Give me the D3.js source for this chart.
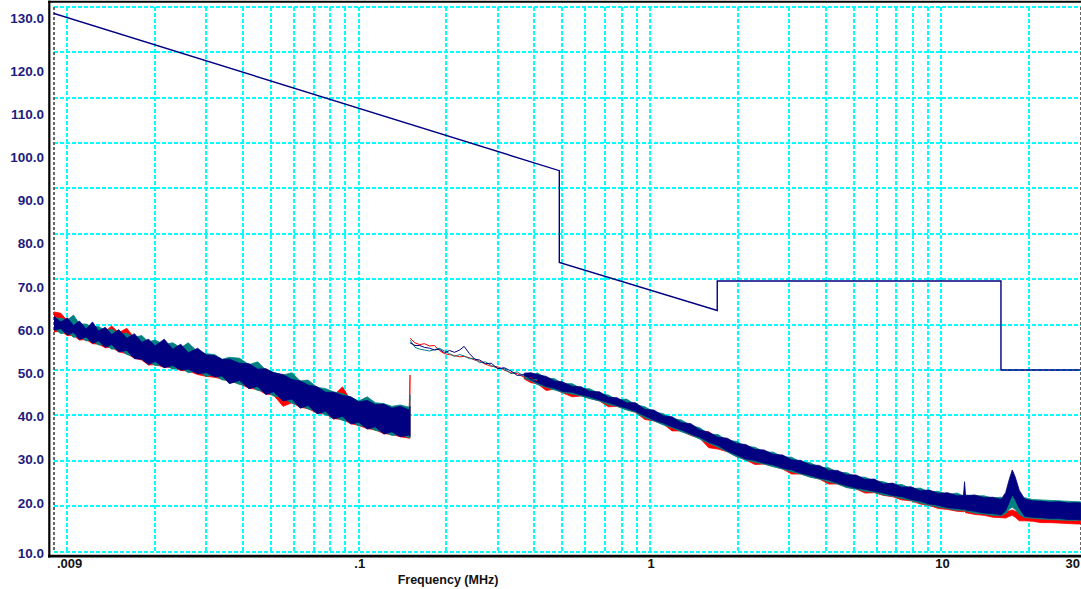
<!DOCTYPE html>
<html>
<head>
<meta charset="utf-8">
<script src="https://cdnjs.cloudflare.com/ajax/libs/d3/7.8.5/d3.min.js"></script>
<style>
  body { margin: 0; background: #fff; }
  svg { display: block; }
</style>
</head>
<body>
<div id="chart"></div>
<script>
'use strict'

// axis ticks
const yTicks = [10, 20, 30, 40, 50, 60, 70, 80, 90, 100, 110, 120, 130];
const xTickValues = [0.009, 0.1, 1, 10, 30];
const xTickText = ['.009', '.1', '1', '10', '30'];

// limit line (MHz, dB)
const limitFreq  = [0.009, 0.488, 0.488, 1.7, 1.7, 16.0, 16.0, 30];
const limitLevel = [128.5, 93.9, 73.7, 63.1, 69.6, 69.6, 50.0, 50.0];

// segment A : 9 kHz - 150 kHz, noise envelopes per trace
const freqA = [0.009,0.0095,0.010,0.0105,0.011,0.0116,0.0122,0.0128,0.0135,0.0142,0.015,0.016,0.017,0.018,0.019,0.020,0.0215,0.023,0.0245,0.026,0.028,0.030,0.032,0.034,0.036,0.039,0.042,0.045,0.048,0.051,0.055,0.059,0.063,0.067,0.072,0.077,0.082,0.088,0.094,0.100,0.107,0.114,0.122,0.130,0.139,0.1490,0.1500];
const navyHiA = [61.8,60.6,61.5,59.8,60.8,59.0,60.6,58.6,59.4,57.8,58.9,57.0,58.0,56.1,56.8,55.3,56.8,54.6,55.7,53.8,54.8,53.3,53.2,52.3,52.4,51.5,51.4,50.2,50.3,49.4,49.0,47.9,47.6,46.7,46.3,45.1,45.1,44.4,44.1,43.0,43.3,42.4,42.5,41.6,42.0,41.2,42.0];
const navyLoA = [58.8,59.1,57.7,58.3,56.7,57.3,55.9,56.4,55.0,55.6,54.0,54.3,52.5,52.4,51.2,51.9,50.5,51.0,50.0,50.2,49.2,49.4,48.5,48.7,47.0,47.7,45.9,46.4,44.6,45.2,43.2,43.6,41.6,42.2,40.4,40.9,39.2,39.8,38.1,38.5,37.0,37.5,35.9,36.4,35.3,35.7,35.4];
const tealHiA = [61.5,61.4,61.0,62.1,60.2,60.1,59.5,59.6,58.7,59.0,58.0,58.1,57.2,57.6,56.2,56.6,55.6,56.0,54.9,56.0,54.0,53.6,53.4,52.4,52.8,52.6,51.2,51.8,50.0,49.5,48.9,49.4,47.6,47.8,46.2,45.9,45.2,44.8,44.0,43.2,44.1,42.8,42.6,42.0,42.3,41.8,44.5];
const tealLoA = [59.2,58.0,58.4,57.2,57.4,56.4,56.6,55.5,55.6,54.6,54.7,53.4,53.0,52.4,51.9,51.0,51.2,50.2,50.6,49.4,49.8,48.6,49.0,47.8,47.8,46.8,46.6,45.5,45.3,44.3,43.9,42.7,42.3,41.4,41.0,40.1,39.8,38.9,38.7,37.7,37.6,36.7,36.4,35.6,35.8,35.1,35.2];
const redHiA  = [62.8,62.5,60.8,60.5,59.8,59.6,59.0,58.8,58.5,59.7,58.2,59.2,57.0,56.8,56.0,56.2,55.4,55.2,54.6,54.4,53.8,53.2,53.0,52.2,52.0,51.4,51.2,50.4,50.2,49.4,48.4,48.0,46.8,46.6,45.4,45.0,44.4,46.3,43.2,43.0,42.4,42.4,41.5,41.6,41.0,41.0,48.9];
const redLoA  = [58.4,58.5,57.6,57.6,56.6,56.7,55.8,55.7,54.9,55.0,54.0,53.6,52.6,52.2,51.1,51.2,50.6,50.6,49.9,49.8,49.0,48.6,48.4,48.0,47.5,47.0,46.0,45.7,44.7,44.5,42.0,42.8,41.8,41.5,40.5,40.3,39.3,39.1,38.2,37.8,37.1,36.8,36.0,35.8,35.3,35.0,35.0];

// segment B : 150 kHz - 410 kHz, thin traces
const freqB = [0.150,0.156,0.162,0.168,0.175,0.182,0.189,0.197,0.205,0.213,0.222,0.230,0.240,0.250,0.260,0.272,0.285,0.300,0.316,0.333,0.350,0.370,0.390,0.410];
const redB  = [57.0,56.0,55.6,55.8,55.3,55.4,54.3,53.6,53.4,53.2,52.9,53.0,52.7,52.2,51.9,51.3,50.8,50.7,50.0,49.4,49.2,48.4,48.3,47.6];
const tealB = [56.6,55.0,54.6,54.4,54.2,54.5,54.8,54.2,53.6,53.0,53.4,53.1,52.5,52.5,51.6,51.8,51.0,50.4,50.3,49.2,49.6,48.6,47.8,47.9];
const navyB = [56.0,55.4,55.4,55.0,54.8,54.4,54.6,53.8,54.3,53.9,54.4,55.2,53.6,52.4,52.2,51.4,51.5,50.3,50.5,49.8,48.8,49.0,48.0,48.2];

// segment C : 370 kHz - 30 MHz, noise envelopes per trace
const freqC = [0.37,0.39,0.41,0.44,0.47,0.50,0.54,0.58,0.62,0.67,0.72,0.77,0.83,0.89,0.96,1.03,1.11,1.19,1.28,1.38,1.48,1.59,1.71,1.84,1.98,2.13,2.29,2.46,2.65,2.85,3.06,3.29,3.54,3.81,4.1,4.4,4.73,5.09,5.47,5.88,6.32,6.8,7.31,7.86,8.45,9.08,9.76,10.5,11.3,11.9,12.0,12.1,13.0,14.0,15.0,16.0,16.6,17.1,17.5,17.9,18.5,19.3,20.5,22.0,23.6,25.3,27.2,29.2,30.0];
const navyHiC = [49.3,49.4,49.0,48.6,47.6,47.4,46.4,46.3,45.3,45.2,44.0,43.9,42.8,42.8,41.3,41.2,39.9,39.7,38.4,38.2,36.8,36.3,35.2,35.0,33.8,33.6,32.5,32.4,31.4,31.3,30.2,30.1,29.1,29.0,27.9,27.9,26.9,26.9,25.9,26.0,24.9,25.1,24.2,24.3,23.4,23.6,22.8,23.0,22.3,22.4,25.4,22.3,22.5,21.9,22.0,21.5,23.0,26.0,28.0,26.5,23.5,21.6,21.2,21.1,20.9,21.0,20.7,20.8,20.7];
const navyLoC = [48.6,47.8,47.2,46.4,46.0,45.3,45.1,44.5,44.1,43.4,42.8,42.2,41.6,40.9,39.9,39.0,38.3,37.5,36.8,35.9,35.2,34.1,33.4,32.2,31.3,30.4,30.1,29.5,29.1,28.4,28.0,27.3,26.8,26.2,25.8,25.1,24.5,24.0,23.7,23.3,22.9,22.4,22.1,21.5,21.1,20.5,20.2,19.7,19.5,19.3,19.4,19.2,18.9,18.5,18.4,18.1,19.0,21.0,22.5,21.5,19.5,17.8,17.6,17.5,17.3,17.3,17.1,17.1,17.0];
const tealHiC = [49.0,48.6,49.4,48.2,48.1,47.0,47.0,45.9,45.9,44.8,44.5,43.4,43.6,42.4,41.9,40.8,40.4,39.3,39.0,37.8,37.3,35.9,35.8,34.5,34.3,33.2,33.0,32.0,31.9,30.9,30.8,29.7,29.6,28.6,28.5,27.5,27.4,26.5,26.4,25.6,25.4,24.7,24.8,23.9,24.0,23.2,23.3,22.6,22.9,22.3,22.6,22.5,22.3,22.3,21.8,22.0,21.0,21.6,22.6,21.8,21.4,21.9,21.5,21.4,21.3,21.2,21.1,21.0,21.0];
const tealLoC = [48.2,47.6,46.8,46.2,45.6,45.1,44.7,44.3,43.7,43.2,42.4,42.0,41.2,40.7,39.5,38.8,37.9,37.3,36.4,35.7,34.8,33.9,33.0,32.0,30.9,30.2,29.7,29.3,28.7,28.2,27.6,27.1,26.4,26.0,25.4,24.9,24.1,23.8,23.3,23.1,22.5,22.2,21.7,21.3,20.7,20.3,19.8,19.5,19.1,19.1,19.0,19.0,18.5,18.3,18.0,17.9,18.4,19.4,19.8,19.3,18.2,17.5,17.4,17.2,17.1,17.0,16.9,16.9,16.9];
const redHiC  = [48.6,48.4,48.8,48.0,47.4,46.8,46.4,45.7,45.2,44.6,43.8,43.3,42.6,42.2,41.2,40.6,39.8,39.0,38.4,37.6,36.6,36.4,35.0,34.2,33.6,33.0,32.3,31.8,31.2,30.8,30.0,29.5,29.0,28.4,27.8,27.3,26.8,26.3,25.8,25.4,24.8,24.5,24.1,23.7,23.3,23.0,22.6,22.4,22.2,22.0,22.0,22.0,21.8,21.6,21.4,21.2,18.8,19.0,19.2,18.9,18.6,21.2,21.0,20.8,20.7,20.6,20.5,20.4,20.4];
const redLoC  = [48.0,47.2,47.0,45.5,45.8,45.0,44.1,44.3,43.8,43.2,41.9,42.0,41.3,40.7,39.1,38.8,38.1,36.6,36.6,35.6,35.0,32.9,32.6,32.0,31.0,30.2,29.2,29.3,28.8,28.2,27.1,27.1,26.5,26.0,24.9,24.9,24.2,23.8,22.9,23.0,22.4,22.1,21.4,21.2,20.5,20.2,19.5,19.3,18.9,18.8,18.9,18.6,18.2,18.0,17.6,17.5,17.4,17.8,18.0,17.6,16.8,16.8,16.7,16.4,16.4,16.3,16.2,16.1,16.1];

const RED = '#ff0000', TEAL = '#008080', NAVY = '#000080';
const width = 1081, height = 589;

const svg = d3.select('#chart').append('svg')
  .attr('width', width)
  .attr('height', height)
  .style('font-family', 'Arial, "Liberation Sans", sans-serif');

const x = d3.scaleLog().domain([0.009, 30]).range([54, 1080.5]);
const y = d3.scaleLinear().domain([10, 130]).range([551.7, 6.7]);
// the tick labels are not spaced like the grid in the original program
const yLabel = d3.scaleLinear().domain([10, 20, 120, 130]).range([552.7, 502.7, 70.7, 18.3]);

// grid
const gridFreqs = [];
[0.01, 0.1, 1, 10].forEach(dec => {
  for (let m = 1; m <= 9; m++) {
    if (dec * m <= 20.001) gridFreqs.push(dec * m);
  }
});

const grid = svg.append('g').attr('shape-rendering', 'crispEdges');
grid.selectAll('line.v').data(gridFreqs).enter().append('line')
  .attr('x1', d => Math.round(x(d))).attr('x2', d => Math.round(x(d)))
  .attr('y1', y(130)).attr('y2', y(10))
  .attr('stroke', '#00ffff').attr('stroke-width', 2).attr('stroke-dasharray', '4,2');
grid.selectAll('line.h').data(yTicks).enter().append('line')
  .attr('x1', x(0.009)).attr('x2', x(30))
  .attr('y1', d => Math.round(y(d))).attr('y2', d => Math.round(y(d)))
  .attr('stroke', '#00ffff').attr('stroke-width', 2).attr('stroke-dasharray', '4,2');
grid.selectAll('line.b').data([0.009, 30]).enter().append('line')
  .attr('x1', d => Math.round(x(d))).attr('x2', d => Math.round(x(d)))
  .attr('y1', y(130)).attr('y2', y(10))
  .attr('stroke', '#666').attr('stroke-width', 2).attr('stroke-dasharray', '3,2');

// traces
svg.append('clipPath').attr('id', 'plotclip')
  .append('rect').attr('x', 54).attr('y', 0).attr('width', 1027).attr('height', 552);
const traces = svg.append('g').attr('clip-path', 'url(#plotclip)');

const area = d3.area().x(d => x(d.f)).y0(d => y(d.lo)).y1(d => y(d.hi));
function band(freqs, lo, hi, color) {
  const pts = freqs.map((f, i) => ({ f: f, lo: lo[i], hi: hi[i] }));
  traces.append('path').datum(pts)
    .attr('d', area)
    .attr('fill', color)
    .attr('stroke', color)
    .attr('stroke-width', 0.8)
    .attr('stroke-linejoin', 'miter');
}
band(freqA, redLoA, redHiA, RED);
band(freqC, redLoC, redHiC, RED);
band(freqA, tealLoA, tealHiA, TEAL);
band(freqC, tealLoC, tealHiC, TEAL);
band(freqA, navyLoA, navyHiA, NAVY);
band(freqC, navyLoC, navyHiC, NAVY);

const line = d3.line().x(d => x(d.f)).y(d => y(d.v));
[[redB, RED], [tealB, TEAL], [navyB, NAVY]].forEach(s => {
  traces.append('path')
    .datum(freqB.map((f, i) => ({ f: f, v: s[0][i] })))
    .attr('d', line)
    .attr('fill', 'none')
    .attr('stroke', s[1])
    .attr('stroke-width', 1);
});

// limit
traces.append('path')
  .datum(limitFreq.map((f, i) => ({ f: f, v: limitLevel[i] })))
  .attr('d', line)
  .attr('fill', 'none')
  .attr('stroke', '#000080')
  .attr('stroke-width', 1.4);

// frame
svg.append('line').attr('x1', 49.3).attr('x2', 49.3).attr('y1', 0.8).attr('y2', 557.4)
  .attr('stroke', '#000').attr('stroke-width', 2.2);
svg.append('line').attr('x1', 48).attr('x2', 1081).attr('y1', 1.8).attr('y2', 1.8)
  .attr('stroke', '#000').attr('stroke-width', 2);
svg.append('line').attr('x1', 48).attr('x2', 1081).attr('y1', 556.1).attr('y2', 556.1)
  .attr('stroke', '#000').attr('stroke-width', 2.6);

// y labels
svg.append('g').selectAll('text').data(yTicks).enter().append('text')
  .attr('x', 44)
  .attr('y', d => yLabel(d))
  .attr('dy', '0.36em')
  .attr('text-anchor', 'end')
  .style('font-size', '13.5px')
  .style('font-weight', 'bold')
  .style('fill', '#1c1c80')
  .text(d => d.toFixed(1));

// x labels
svg.append('g').selectAll('text').data(xTickValues).enter().append('text')
  .attr('x', (d, i) => i === 0 ? x(d) + 3 : (i === xTickValues.length - 1 ? 1080 : x(d) + 1))
  .attr('y', 568)
  .attr('text-anchor', (d, i) => i === 0 ? 'start' : (i === xTickValues.length - 1 ? 'end' : 'middle'))
  .style('font-size', '13px')
  .style('font-weight', 'bold')
  .style('fill', '#111')
  .text((d, i) => xTickText[i]);

svg.append('text')
  .attr('x', 448)
  .attr('y', 584)
  .attr('text-anchor', 'middle')
  .style('font-size', '12.5px')
  .style('font-weight', 'bold')
  .style('fill', '#111')
  .text('Frequency (MHz)');
</script>
</body>
</html>
